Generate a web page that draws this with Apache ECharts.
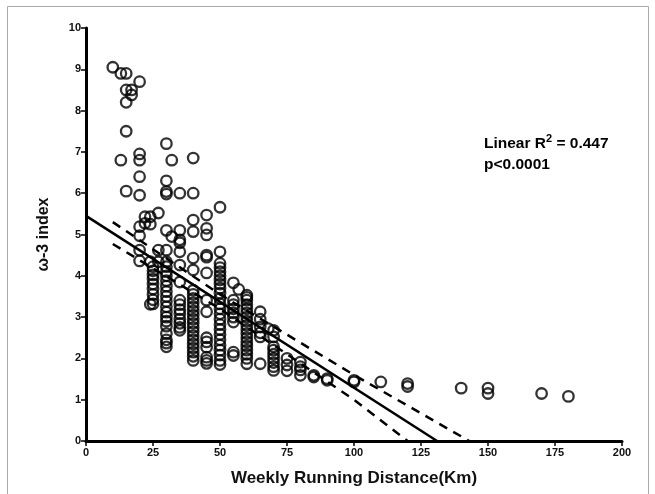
<!DOCTYPE html>
<html>
<head>
<meta charset="utf-8">
<script src="https://cdn.jsdelivr.net/npm/echarts@6/dist/echarts.min.js"></script>
<style>
html,body{margin:0;padding:0;background:#fff;}
#chart{width:655px;height:494px;}
</style>
</head>
<body>
<div id="chart"></div>
<script>
// weekly distance (km) and the omega-3 index values read at each distance
var runDistance = [10, 13, 15, 17, 20, 22, 24, 25, 27, 30, 32, 35, 40, 45, 50, 55, 57, 60, 65, 68, 70, 75, 80, 85, 90, 100, 110, 120, 140, 150, 170, 180];
var omega3Values = [
    [9.05],
    [8.9, 6.8],
    [8.9, 8.5, 8.2, 7.5, 6.05],
    [8.5, 8.38],
    [8.7, 6.95, 6.8, 6.4, 5.95, 5.19, 4.97, 4.62, 4.36],
    [5.43, 5.27],
    [5.43, 5.25, 4.34, 3.31],
    [4.22, 4.12, 4.02, 3.92, 3.8, 3.68, 3.55, 3.42, 3.32],
    [5.52, 4.62, 4.34],
    [7.2, 6.3, 6.04, 5.98, 5.1, 4.62, 4.34, 4.22, 4.1, 4.0, 3.88, 3.75, 3.62, 3.5, 3.38, 3.25, 3.12, 3.0, 2.9, 2.78, 2.6, 2.45, 2.37, 2.28],
    [6.8, 4.95],
    [6.0, 5.1, 4.87, 4.8, 4.58, 4.26, 3.85, 3.41, 3.3, 3.18, 3.08, 2.95, 2.85, 2.75, 2.68],
    [6.85, 6.0, 5.35, 5.07, 4.43, 4.14, 3.65, 3.55, 3.45, 3.35, 3.25, 3.15, 3.05, 2.95, 2.85, 2.75, 2.65, 2.55, 2.45, 2.35, 2.25, 2.15, 2.05, 1.95],
    [5.47, 5.15, 4.99, 4.5, 4.45, 4.07, 3.41, 3.13, 2.5, 2.4, 2.27, 2.03, 1.95, 1.88],
    [5.66, 4.58, 4.3, 4.2, 4.1, 4.0, 3.9, 3.8, 3.7, 3.58, 3.45, 3.32, 3.2, 3.08, 2.95, 2.82, 2.7, 2.58, 2.45, 2.32, 2.2, 2.08, 1.95, 1.85],
    [3.83, 3.41, 3.3, 3.2, 3.1, 3.0, 2.88, 2.15, 2.07],
    [3.67],
    [3.53, 3.48, 3.41, 3.3, 3.2, 3.1, 3.0, 2.9, 2.8, 2.7, 2.6, 2.5, 2.4, 2.3, 2.2, 2.1, 2.0, 1.87],
    [3.13, 2.95, 2.76, 2.62, 2.52, 1.87],
    [2.72],
    [2.68, 2.52, 2.28, 2.2, 2.1, 2.0, 1.9, 1.8, 1.71],
    [2.0, 1.84, 1.7],
    [1.91, 1.8, 1.72, 1.59],
    [1.59, 1.55],
    [1.51, 1.47],
    [1.47, 1.43],
    [1.43],
    [1.39, 1.32],
    [1.28],
    [1.28, 1.15],
    [1.15],
    [1.08]
];

// fitted line and 95% band
var fitX = [0, 131];
var fitY = [5.45, 0];
var upperX = [10, 50, 100, 143];
var upperY = [5.3, 3.55, 1.6, 0];
var lowerX = [10, 50, 100, 120];
var lowerY = [4.77, 3.2, 1.0, 0];

function pairs(xs, ys){
    return xs.map(function(x, i){ return [x, ys[i]]; });
}

var scatterData = [];
runDistance.forEach(function(x, i){
    omega3Values[i].forEach(function(y){ scatterData.push([x, y]); });
});

var font = 'Liberation Sans, Arial, sans-serif';
var myChart = echarts.init(document.getElementById('chart'));

myChart.setOption({
    animation: false,
    backgroundColor: '#fff',
    grid: {left: 86, right: 33, top: 28, bottom: 53},
    xAxis: {
        type: 'value', min: 0, max: 200, interval: 25,
        name: 'Weekly Running Distance(Km)', nameLocation: 'middle', nameGap: 29,
        nameTextStyle: {fontFamily: font, fontWeight: 'bold', fontSize: 17, color: '#111'},
        axisLine: {lineStyle: {color: '#000', width: 3}},
        axisTick: {length: 5, lineStyle: {color: '#000', width: 1.5}},
        axisLabel: {fontFamily: font, fontWeight: 'bold', fontSize: 11, color: '#111', margin: 6},
        splitLine: {show: false}
    },
    yAxis: {
        type: 'value', min: 0, max: 10, interval: 1,
        name: 'ω-3 index', nameLocation: 'middle', nameGap: 34, nameRotate: 90,
        nameTextStyle: {fontFamily: font, fontWeight: 'bold', fontSize: 16, color: '#111'},
        axisLine: {lineStyle: {color: '#000', width: 3}},
        axisTick: {length: 5, lineStyle: {color: '#000', width: 1.5}},
        axisLabel: {fontFamily: font, fontWeight: 'bold', fontSize: 11, color: '#111', margin: 5},
        splitLine: {show: false}
    },
    graphic: [
        {
            type: 'rect', silent: true, z: -1,
            shape: {x: 7.5, y: 6.5, width: 641, height: 500},
            style: {fill: 'none', stroke: '#aaa', lineWidth: 1}
        },
        {
            type: 'text', left: 484, top: 133,
            style: {
                text: '{a|Linear R}{s|2}{a| = 0.447}\n{a|p<0.0001}',
                rich: {
                    a: {fontFamily: font, fontWeight: 'bold', fontSize: 15.5, color: '#111', lineHeight: 21},
                    s: {fontFamily: font, fontWeight: 'bold', fontSize: 11, color: '#111', verticalAlign: 'top', lineHeight: 21, padding: [0, 0, 6, 0]}
                }
            }
        }
    ],
    series: [
        {
            type: 'scatter',
            data: scatterData,
            symbol: 'circle',
            symbolSize: 10.5,
            itemStyle: {color: 'rgba(255,255,255,0)', borderColor: '#000', borderWidth: 2.3},
            z: 3
        },
        {
            type: 'line', data: pairs(fitX, fitY), symbol: 'none',
            lineStyle: {color: '#000', width: 2.5}, z: 4
        },
        {
            type: 'line', data: pairs(upperX, upperY), symbol: 'none',
            lineStyle: {color: '#000', width: 2.5, type: [9, 7]}, z: 4
        },
        {
            type: 'line', data: pairs(lowerX, lowerY), symbol: 'none',
            lineStyle: {color: '#000', width: 2.5, type: [9, 7]}, z: 4
        }
    ]
});

window.onresize = function(){
    myChart.resize();
};
</script>
</body>
</html>
